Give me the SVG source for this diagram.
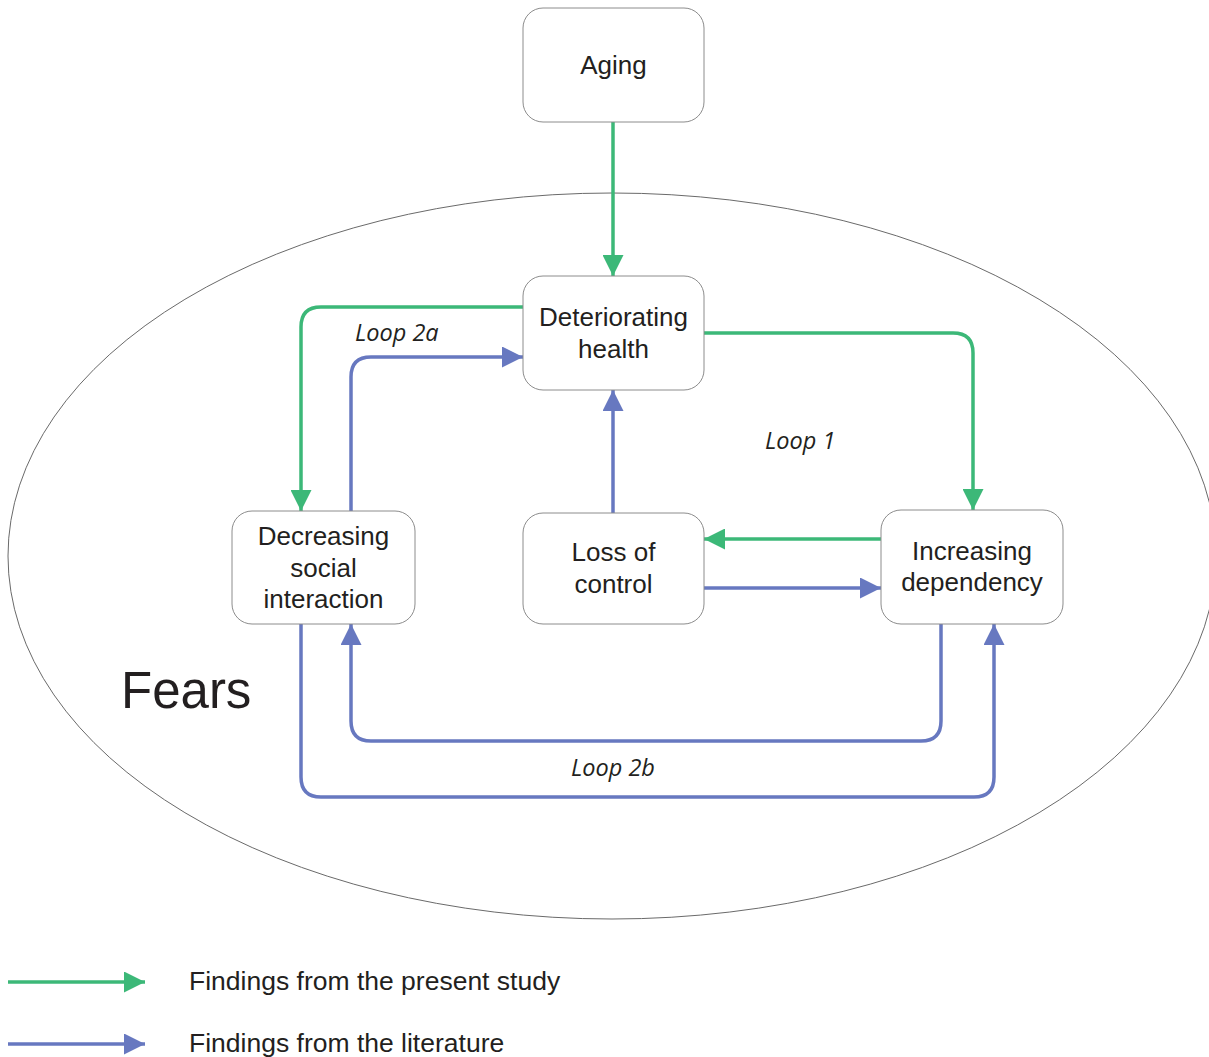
<svg xmlns="http://www.w3.org/2000/svg" width="1209" height="1057" viewBox="0 0 1209 1057">
<style>
.node rect{fill:#fff;stroke:#8c8c8c;stroke-width:1}
.node text,.legend text{font-family:"Liberation Sans",Arial,sans-serif;font-size:26px;fill:#231f20;text-anchor:middle}
.legend text{text-anchor:start;font-size:26.5px}
.loop{font-family:"Open Sans","Noto Sans",sans-serif;font-style:italic;font-size:23.5px;fill:#231f20}
.g{fill:none;stroke:#3cb878;stroke-width:3.5}
.b{fill:none;stroke:#6778c0;stroke-width:3.5}
</style>
<defs>
<marker id="ag" viewBox="0 0 20 20" refX="20" refY="10" markerWidth="21" markerHeight="21" markerUnits="userSpaceOnUse" orient="auto"><path d="M0,0 L20,10 L0,20 z" fill="#3cb878"/></marker>
<marker id="ab" viewBox="0 0 20 20" refX="20" refY="10" markerWidth="21" markerHeight="21" markerUnits="userSpaceOnUse" orient="auto"><path d="M0,0 L20,10 L0,20 z" fill="#6778c0"/></marker>
</defs>
<rect width="1209" height="1057" fill="#fff"/>
<ellipse id="fears" cx="612" cy="556" rx="604" ry="363" fill="none" stroke="#6a6a6a" stroke-width="1"/>
<text x="121" y="708" font-family="Liberation Sans,Arial,sans-serif" font-size="51" fill="#231f20">Fears</text>
<g id="connectors">
<path class="g" d="M613,122 V276" marker-end="url(#ag)"/>
<path class="g" d="M523,307 H321 Q301,307 301,327 V511" marker-end="url(#ag)"/>
<path class="b" d="M351,511 V377 Q351,357 371,357 H523" marker-end="url(#ab)"/>
<path class="g" d="M704,333 H953 Q973,333 973,353 V510" marker-end="url(#ag)"/>
<path class="b" d="M613,513 V390" marker-end="url(#ab)"/>
<path class="g" d="M881,539 H704" marker-end="url(#ag)"/>
<path class="b" d="M704,588 H881" marker-end="url(#ab)"/>
<path class="b" d="M941,624 V721 Q941,741 921,741 H371 Q351,741 351,721 V624" marker-end="url(#ab)"/>
<path class="b" d="M301,624 V777 Q301,797 321,797 H974 Q994,797 994,777 V624" marker-end="url(#ab)"/>
</g>
<text class="loop" x="355" y="341">Loop 2a</text>
<text class="loop" x="765" y="449">Loop 1</text>
<text class="loop" x="571" y="776">Loop 2b</text>
<g id="aging" class="node"><rect x="523" y="8" width="181" height="114" rx="20"/><text x="613.5" y="74">Aging</text></g>
<g id="health" class="node"><rect x="523" y="276" width="181" height="114" rx="20"/><text x="613.5" y="326">Deteriorating</text><text x="613.5" y="358">health</text></g>
<g id="social" class="node"><rect x="232" y="511" width="183" height="113" rx="20"/><text x="323.5" y="545">Decreasing</text><text x="323.5" y="577">social</text><text x="323.5" y="608">interaction</text></g>
<g id="control" class="node"><rect x="523" y="513" width="181" height="111" rx="20"/><text x="613.5" y="561">Loss of</text><text x="613.5" y="593">control</text></g>
<g id="dependency" class="node"><rect x="881" y="510" width="182" height="114" rx="20"/><text x="972" y="560">Increasing</text><text x="972" y="591">dependency</text></g>
<g id="legend" class="legend">
<path class="g" d="M8,982 H145" marker-end="url(#ag)"/>
<path class="b" d="M8,1044 H145" marker-end="url(#ab)"/>
<text x="189" y="990">Findings from the present study</text>
<text x="189" y="1052">Findings from the literature</text>
</g>
</svg>
